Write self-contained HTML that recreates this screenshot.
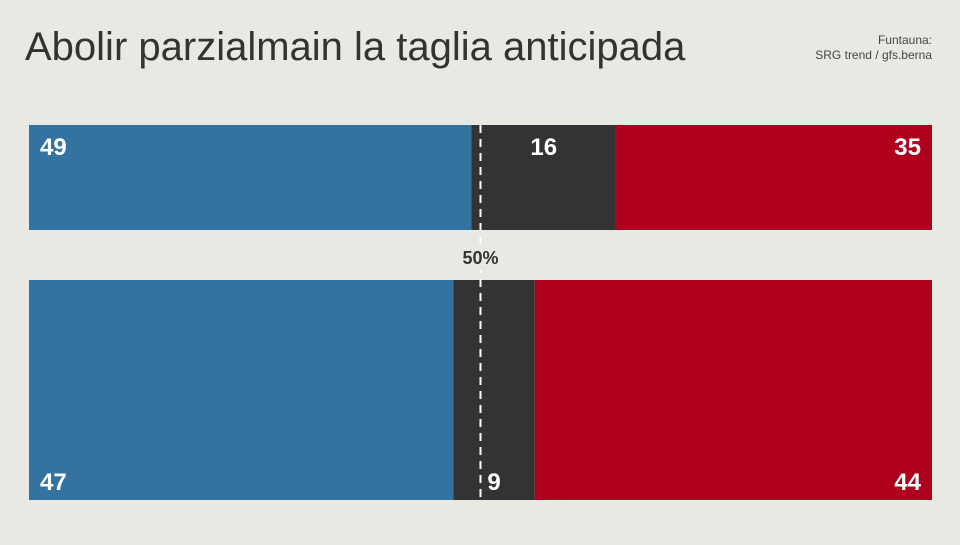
<!DOCTYPE html>
<html><head><meta charset="utf-8"><style>
body{margin:0;width:960px;height:540px;background:#e9e9e4;overflow:hidden;font-family:"Liberation Sans",sans-serif}
</style></head><body>
<svg width="960" height="540">
<text x="25" y="60" font-size="40" fill="#333">Abolir parzialmain la taglia anticipada</text>
<text x="932" y="44" font-size="12" fill="#444" text-anchor="end">Funtauna:</text>
<text x="932" y="59" font-size="12" fill="#444" text-anchor="end">SRG trend / gfs.berna</text>
<g id="bars"></g>
<line x1="480.5" x2="480.5" y1="125" y2="500" stroke="#fff" stroke-width="2" stroke-dasharray="8,6"/>
<rect x="455" y="244" width="52" height="26" fill="#e9e9e4"/>
<text x="480.5" y="264" font-size="18" font-weight="bold" fill="#333" text-anchor="middle">50%</text>
</svg>
<script>
const rows = ["row-1","row-2"];
const yes = [49,47];
const undecided = [16,9];
const no = [35,44];
const X0=29, W=903;
const rowY=[125,280], rowH=[105,220], labelY=[155,490];
const colors=["#3472a0","#333333","#af001e"];
const names=["yes","undecided","no"];
const g=document.getElementById('bars');
const NS="http://www.w3.org/2000/svg";
function sx(v){return X0+v/100*W;}
rows.forEach((r,i)=>{
  const vals=[yes[i],undecided[i],no[i]];
  let acc=0;
  vals.forEach((v,j)=>{
    const rect=document.createElementNS(NS,'rect');
    
    
    rect.setAttribute('x',sx(acc));rect.setAttribute('y',rowY[i]);
    rect.setAttribute('width',sx(acc+v)-sx(acc));rect.setAttribute('height',rowH[i]);
    rect.setAttribute('fill',colors[j]);
    g.appendChild(rect);
    const t=document.createElementNS(NS,'text');
    
    
    let tx, anchor;
    if(j==0){tx=sx(acc)+11;anchor='start';}
    else if(j==2){tx=sx(acc+v)-11;anchor='end';}
    else {tx=(sx(acc)+sx(acc+v))/2;anchor='middle';}
    t.setAttribute('x',tx);t.setAttribute('y',labelY[i]);
    t.setAttribute('text-anchor',anchor);
    t.setAttribute('font-size','24');t.setAttribute('font-weight','bold');t.setAttribute('fill','#fff');
    t.textContent=v;
    g.appendChild(t);
    acc+=v;
  });
});
</script>
</body></html>
